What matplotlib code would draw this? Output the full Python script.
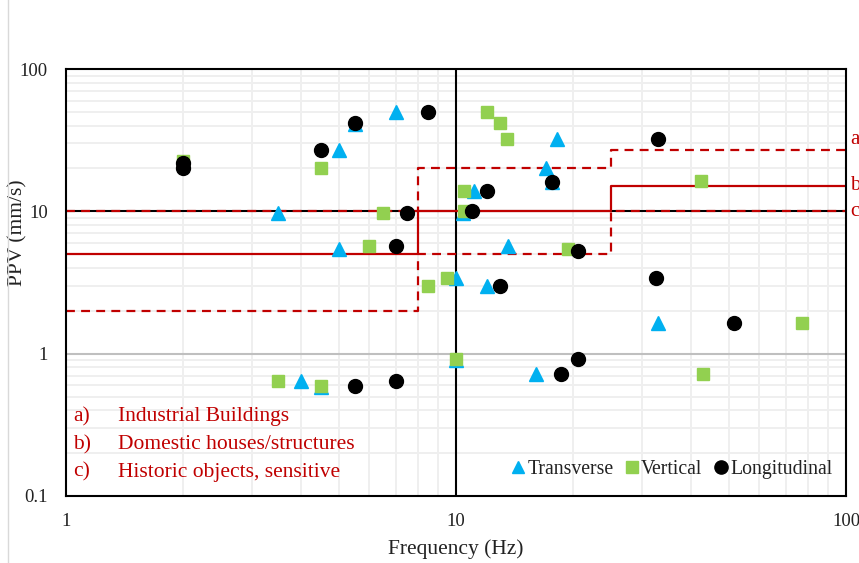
import matplotlib
matplotlib.use("Agg")
import matplotlib.pyplot as plt
from matplotlib.lines import Line2D
from matplotlib.ticker import LogLocator, FixedLocator, FixedFormatter, NullFormatter

plt.rcParams['font.family'] = ['Liberation Serif', 'DejaVu Serif']

# ---- data ----
trans_f = [3.5, 5.0, 5.0, 5.5, 7.0, 10.0, 12.0, 13.6, 11.1, 10.4, 17.0, 17.6, 18.2, 16.0, 33.0, 4.0, 4.5, 10.0]
trans_v = [9.8, 5.4, 27, 41, 50, 3.4, 3.0, 5.7, 14, 9.7, 20, 16, 32, 0.72, 1.65, 0.64, 0.58, 0.90]

vert_f = [2.0, 4.5, 6.5, 6.0, 8.5, 9.5, 10.5, 10.5, 12.0, 13.0, 13.5, 19.4, 42.5, 77.0, 43.0, 10.0, 3.5, 4.5]
vert_v = [22.5, 20, 9.8, 5.7, 3.0, 3.4, 14, 10, 50, 42, 32, 5.4, 16.4, 1.65, 0.72, 0.91, 0.64, 0.59]

long_f = [2.0, 2.0, 4.5, 5.5, 8.5, 7.5, 7.0, 12.0, 11.0, 17.6, 33.0, 20.5, 13.0, 32.6, 51.6, 20.5, 18.6, 5.5, 7.0]
long_v = [22, 20, 27, 42, 50, 9.8, 5.7, 14, 10, 16, 32, 5.3, 3.0, 3.4, 1.65, 0.91, 0.72, 0.59, 0.64]

limit_f = [1, 8, 8, 25, 25, 100]
limit_a = [10, 10, 20, 20, 27, 27]   # Industrial buildings
limit_b = [5, 5, 10, 10, 15, 15]     # Domestic houses/structures
limit_c = [2, 2, 5, 5, 10, 10]       # Historic objects, sensitive

x_ticks = [1, 10, 100]
x_tick_labels = ["1", "10", "100"]
y_ticks = [0.1, 1, 10, 100]
y_tick_labels = ["0.1", "1", "10", "100"]

notes = [("a)", "Industrial Buildings"), ("b)", "Domestic houses/structures"), ("c)", "Historic objects, sensitive")]

RED = "#C00000"
BLUE = "#00B0F0"
GREEN = "#92D050"
TXT = "#222222"

fig = plt.figure(figsize=(8.59, 5.63), dpi=100)
ax = fig.add_axes([66/859, 1-496/563, (846-66)/859, (496-69)/563])
ax.set_xscale('log')
ax.set_yscale('log')
ax.set_xlim(1, 100)
ax.set_ylim(0.1, 100)
ax.set_axisbelow(True)

# grid
ax.xaxis.set_minor_locator(LogLocator(base=10, subs=range(2, 10)))
ax.yaxis.set_minor_locator(LogLocator(base=10, subs=range(2, 10)))
ax.xaxis.set_minor_formatter(NullFormatter())
ax.yaxis.set_minor_formatter(NullFormatter())
ax.grid(which='minor', color='#efefef', lw=1.4)
ax.axhline(1, color='#bfbfbf', lw=1.5, zorder=1.2)
ax.axhline(10, color='black', lw=1.5, zorder=1.2)
ax.axvline(10, color='black', lw=1.5, zorder=1.3)

# limit lines
ax.plot(limit_f, limit_a, color=RED, lw=1.6, ls=(0, (4, 2.8)), zorder=2)
ax.plot(limit_f, limit_c, color=RED, lw=1.6, ls=(0, (4, 2.8)), zorder=2)
ax.plot(limit_f, limit_b, color=RED, lw=1.6, ls='-', zorder=2)

# data
ax.plot(trans_f, trans_v, ls='none', marker='^', ms=9.5, color=BLUE, mec=BLUE, zorder=3)
ax.plot(vert_f, vert_v, ls='none', marker='s', ms=8, color=GREEN, mec=GREEN, zorder=4)
ax.plot(long_f, long_v, ls='none', marker='o', ms=10, color='black', mec='black', zorder=5)

# ticks
ax.xaxis.set_major_locator(FixedLocator(x_ticks))
ax.xaxis.set_major_formatter(FixedFormatter(x_tick_labels))
ax.yaxis.set_major_locator(FixedLocator(y_ticks))
ax.yaxis.set_major_formatter(FixedFormatter(y_tick_labels))
ax.tick_params(which='both', length=0, labelsize=13.5, colors=TXT)
ax.tick_params(axis='x', pad=12)
ax.tick_params(axis='y', pad=13)
for s in ax.spines.values():
    s.set_color('black')
    s.set_linewidth(1.5)

ax.set_xlabel("Frequency (Hz)", fontsize=15.5, color=TXT)
ax.xaxis.set_label_coords(0.5, -(549 - 496) / 427)
ax.xaxis.label.set_va('center')
ax.set_ylabel("PPV (mm/s)", fontsize=15.5, color=TXT)
ax.yaxis.set_label_coords(-(66 - 18) / 780, (496 - 233) / 427)
ax.yaxis.label.set_va('center')

# notes
for i, (k, t) in enumerate(notes):
    y = 417 + i * 27.5
    fig.text(73/859, 1 - y/563, k, color=RED, fontsize=15.5, va='center', ha='left')
    fig.text(118/859, 1 - y/563, t, color=RED, fontsize=15.5, va='center', ha='left')

# right-edge labels
for lab, y in [("a", 140), ("b", 185), ("c", 212)]:
    fig.text(850/859, 1 - y/563, lab, color=RED, fontsize=15, va='center', ha='left')

# legend
handles = [Line2D([], [], ls='none', marker='^', ms=9, color=BLUE),
           Line2D([], [], ls='none', marker='s', ms=8, color=GREEN),
           Line2D([], [], ls='none', marker='o', ms=9.5, color='black')]
leg = ax.legend(handles, ["Transverse", "Vertical", "Longitudinal"], ncol=3, loc='lower right',
                bbox_to_anchor=(1.0, 0.008), frameon=False, fontsize=14.2, handlelength=0.8,
                handletextpad=0.05, columnspacing=0.55, borderaxespad=0.3)
for t in leg.get_texts():
    t.set_color(TXT)

# chart area border (faint)
fig.add_artist(Line2D([8/859, 8/859], [0, 1], color='#d9d9d9', lw=1))

fig.savefig("out.png", dpi=100)
